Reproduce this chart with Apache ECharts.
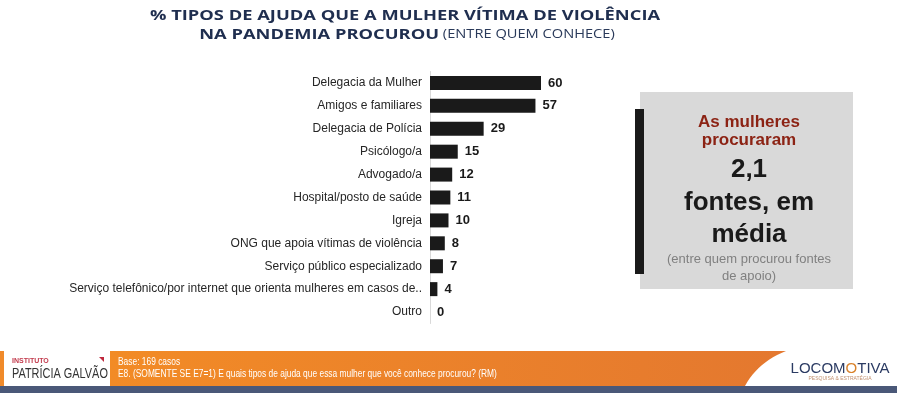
<!DOCTYPE html>
<html>
<head>
<meta charset="utf-8">
<script src="https://cdn.jsdelivr.net/npm/echarts@6/dist/echarts.min.js"></script>
<style>
html,body{margin:0;padding:0;background:#fff;}
#c{width:897px;height:393px;}
</style>
</head>
<body>
<div id="c"></div>
<script>
const categories = [
  'Delegacia da Mulher',
  'Amigos e familiares',
  'Delegacia de Polícia',
  'Psicólogo/a',
  'Advogado/a',
  'Hospital/posto de saúde',
  'Igreja',
  'ONG que apoia vítimas de violência',
  'Serviço público especializado',
  'Serviço telefônico/por internet que orienta mulheres em casos de..',
  'Outro'
];
const values = [60, 57, 29, 15, 12, 11, 10, 8, 7, 4, 0];

const titleLine1 = '% TIPOS DE AJUDA QUE A MULHER VÍTIMA DE VIOLÊNCIA';
const titleLine2Bold = 'NA PANDEMIA PROCUROU';
const titleLine2Light = ' (ENTRE QUEM CONHECE)';
const boxLines = ['As mulheres', 'procuraram', '2,1', 'fontes, em', 'média', '(entre quem procurou fontes', 'de apoio)'];
const footerBase = 'Base: 169 casos';
const footerQuestion = 'E8. (SOMENTE SE E7=1) E quais tipos de ajuda que essa mulher que você conhece procurou? (RM)';

const F = '"Liberation Sans", Arial, sans-serif';
const chart = echarts.init(document.getElementById('c'));

// decorative footer band outline (curved right edge)
const bandPts = [[110, 351]];
for (let i = 0; i <= 12; i++) {
  const t = i / 12, u = 1 - t;
  bandPts.push([u * u * 786 + 2 * u * t * 758 + t * t * 745, u * u * 351 + 2 * u * t * 362 + t * t * 386]);
}
bandPts.push([110, 386]);

const boxCx = 749;
chart.setOption({
  backgroundColor: '#ffffff',
  animation: false,
  grid: { left: 430, top: 71.5, width: 185, height: 252, containLabel: false },
  xAxis: { type: 'value', min: 0, max: 100, show: false },
  yAxis: {
    type: 'category', data: categories, inverse: true,
    axisLine: { show: true, lineStyle: { color: '#d9d9d9', width: 1 } },
    axisTick: { show: false },
    axisLabel: { color: '#262626', fontSize: 12, fontFamily: F, margin: 8 }
  },
  series: [{
    type: 'bar', data: values, barWidth: 14,
    itemStyle: { color: '#1a1a1a' },
    label: { show: true, position: 'right', distance: 7, color: '#1a1a1a', fontSize: 13, fontWeight: 'bold', fontFamily: F }
  }],
  graphic: [
    // title
    { type: 'text', x: 405, y: 16, scaleX: 1.22, style: { x: 0, y: 0, text: titleLine1, textAlign: 'center', textVerticalAlign: 'middle', font: 'bold 15px "Open Sans", sans-serif', fill: '#1f2e4f' } },
    { type: 'text', x: 407, y: 35, scaleX: 1.22, style: { x: 0, y: 0, textAlign: 'center', textVerticalAlign: 'middle',
      text: '{b|' + titleLine2Bold + '}{l|' + titleLine2Light + '}',
      rich: { b: { font: 'bold 15px "Open Sans", sans-serif', fill: '#1f2e4f' }, l: { font: '12px "Open Sans", sans-serif', fill: '#2a3a5a' } } } },
    // right box
    { type: 'rect', shape: { x: 640, y: 92, width: 213, height: 197 }, style: { fill: '#d9d9d9' } },
    { type: 'rect', shape: { x: 635, y: 109, width: 9, height: 165 }, style: { fill: '#1a1a1a' } },
    { type: 'text', style: { x: boxCx, y: 122, text: boxLines[0], textAlign: 'center', textVerticalAlign: 'middle', font: 'bold 17px ' + F, fill: '#8c2314' } },
    { type: 'text', style: { x: boxCx, y: 140, text: boxLines[1], textAlign: 'center', textVerticalAlign: 'middle', font: 'bold 17px ' + F, fill: '#8c2314' } },
    { type: 'text', style: { x: boxCx, y: 170, text: boxLines[2], textAlign: 'center', textVerticalAlign: 'middle', font: 'bold 26px ' + F, fill: '#1a1a1a' } },
    { type: 'text', style: { x: boxCx, y: 203, text: boxLines[3], textAlign: 'center', textVerticalAlign: 'middle', font: 'bold 26px ' + F, fill: '#1a1a1a' } },
    { type: 'text', style: { x: boxCx, y: 235, text: boxLines[4], textAlign: 'center', textVerticalAlign: 'middle', font: 'bold 26px ' + F, fill: '#1a1a1a' } },
    { type: 'text', style: { x: boxCx, y: 259, text: boxLines[5], textAlign: 'center', textVerticalAlign: 'middle', font: '13px ' + F, fill: '#808080' } },
    { type: 'text', style: { x: boxCx, y: 276, text: boxLines[6], textAlign: 'center', textVerticalAlign: 'middle', font: '13px ' + F, fill: '#808080' } },
    // footer
    { type: 'rect', shape: { x: 0, y: 351, width: 4, height: 35 }, style: { fill: '#f08a2a' } },
    { type: 'polygon', shape: { points: bandPts },
      style: { fill: new echarts.graphic.LinearGradient(0, 0, 1, 0, [{ offset: 0, color: '#f28b26' }, { offset: 1, color: '#e4782f' }]) } },
    { type: 'rect', shape: { x: 0, y: 386, width: 897, height: 7 }, style: { fill: '#4a5878' } },
    { type: 'text', style: { x: 12, y: 361, text: 'INSTITUTO', textVerticalAlign: 'middle', font: 'bold 7px ' + F, fill: '#c23a4c' } },
    { type: 'polygon', shape: { points: [[99, 357], [104, 357], [104, 362]] }, style: { fill: '#c0283c' } },
    { type: 'text', x: 12, y: 374, scaleX: 0.78, style: { x: 0, y: 0, text: 'PATRÍCIA GALVÃO', textVerticalAlign: 'middle', font: '14px ' + F, fill: '#333333' } },
    { type: 'text', x: 118, y: 362, scaleX: 0.8, style: { x: 0, y: 0, text: footerBase, textVerticalAlign: 'middle', font: '10.5px ' + F, fill: '#ffffff' } },
    { type: 'text', x: 118, y: 374, scaleX: 0.8, style: { x: 0, y: 0, text: footerQuestion, textVerticalAlign: 'middle', font: '10.5px ' + F, fill: '#ffffff' } },
    { type: 'text', style: { x: 840, y: 369, textAlign: 'center', textVerticalAlign: 'middle',
      text: '{a|LOCOM}{o|O}{a|TIVA}',
      rich: { a: { font: '15px ' + F, fill: '#2b3b63' }, o: { font: '15px ' + F, fill: '#d9822b' } } } },
    { type: 'text', style: { x: 840, y: 379, text: 'PESQUISA & ESTRATÉGIA', textAlign: 'center', textVerticalAlign: 'middle', font: '5px ' + F, fill: '#c09070' } }
  ]
});
</script>
</body>
</html>
